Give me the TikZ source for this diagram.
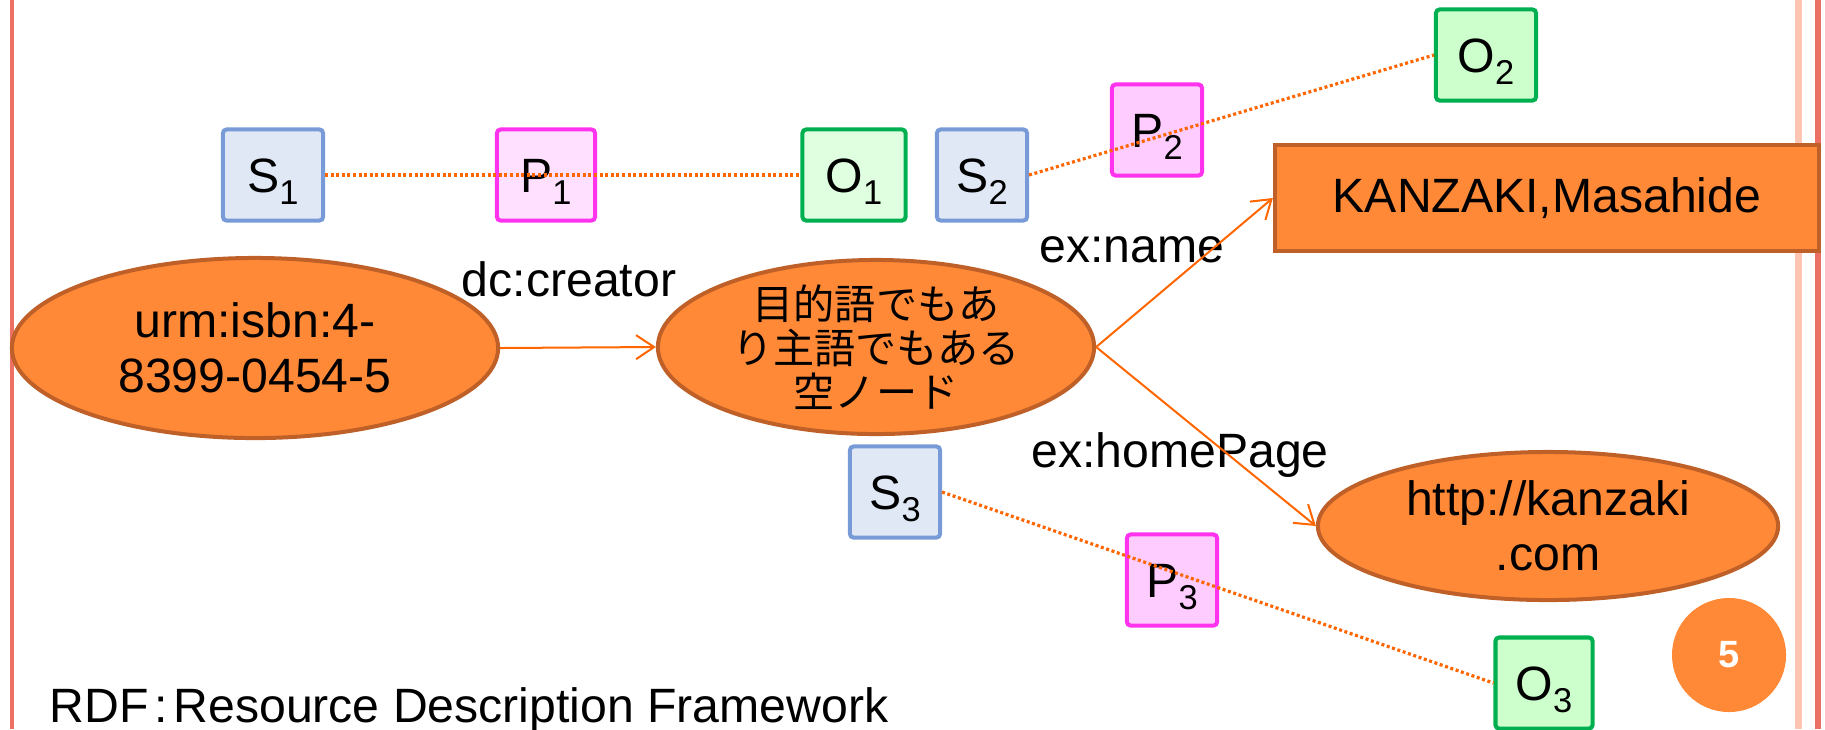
\documentclass[tikz,border=0pt]{standalone}
\usepackage{fontspec}
\setmainfont{Liberation Sans}
\newfontfamily\jpfont{Noto Sans CJK JP}
\usetikzlibrary{shapes.geometric,arrows.meta}

\definecolor{slideline}{RGB}{236,112,99}
\definecolor{slideband}{RGB}{255,196,178}
\definecolor{nodefill}{RGB}{255,137,54}
\definecolor{nodeedge}{RGB}{190,96,40}
\definecolor{linkline}{RGB}{255,102,0}
\definecolor{subjedge}{RGB}{120,155,215}
\definecolor{subjfill}{RGB}{224,232,246}
\definecolor{prededge}{RGB}{255,51,238}
\definecolor{predfill}{RGB}{255,204,255}
\definecolor{predpale}{RGB}{255,224,255}
\definecolor{objedge}{RGB}{0,176,80}
\definecolor{objfill}{RGB}{204,255,204}
\definecolor{objpale}{RGB}{224,255,224}

\tikzset{
  txt/.style={font=\fontsize{13.7}{15.7}\selectfont},
  resource/.style={txt,ellipse,draw=nodeedge,fill=nodefill,line width=0.04cm,inner sep=0pt,align=center},
  literal/.style={txt,rectangle,draw=nodeedge,fill=nodefill,line width=0.04cm,inner sep=0pt},
  tbox/.style={txt,rectangle,rounded corners=1pt,line width=0.04cm,inner sep=0pt,
    minimum height=0.91cm,text height=0.35cm,text depth=0pt},
  subj/.style={tbox,draw=subjedge,fill=subjfill,minimum width=0.9cm},
  pred/.style={tbox,draw=prededge,fill=predfill,minimum width=0.9cm},
  obj/.style={tbox,draw=objedge,fill=objfill,minimum width=1cm},
  link/.style={draw=linkline,line width=0.02cm,-{Straight Barb[length=0.18cm,width=0.24cm]}},
  triple/.style={draw=linkline,line width=0.032cm,dash pattern=on 0.03cm off 0.026cm},
}

\begin{document}
\begin{tikzpicture}[x=0.01cm,y=-0.01cm]
\def\tsub#1#2{#1\raisebox{-0.12cm}{\fontsize{9.8}{10}\selectfont #2}} % #1 Letter, #2 Index
\useasboundingbox (0,0) rectangle (1825,729);

%slide border
\fill[slideline] (9.5,0) rectangle (13.5,729);
\fill[slideband] (1795,0) rectangle (1802,729);
\fill[slideline] (1815,0) rectangle (1821,729);

%resources and literals
\node[resource,minimum width=4.86cm,minimum height=1.8cm] (urm) at (255,348) {urm:isbn:4-\\8399-0454-5};
\node[resource,minimum width=4.36cm,minimum height=1.74cm,inner ysep=-0.1cm,
  font=\jpfont\fontsize{11.7}{12.6}\selectfont] (blank) at (876,347) {目的語でもあ\\り主語でもある\\空ノード};
\node[literal,minimum width=5.44cm,minimum height=1.05cm] (name) at (1547,198) {KANZAKI,Masahide};
\node[resource,minimum width=4.6cm,minimum height=1.48cm] (home) at (1548,526) {http://kanzaki\\.com};

%property labels
\node[txt] (creator) at (569,279) {dc:creator};
\node[txt] (exname) at (1132,250) {ex:name};
\node[txt] (exhome) at (1180,455) {ex:homePage};

%arcs of the graph
\draw[link] (urm.east) -- (blank.west);
\draw[link] (blank.east) -- (name.west);
\draw[link] (blank.east) -- (home.west);

%subject, predicate, object
\node[subj,minimum width=1cm] (s1) at (273,175) {\tsub{S}{1}};
\node[pred,minimum width=0.98cm,fill=predpale] (p1) at (546,175) {\tsub{P}{1}};
\node[obj,minimum width=1.03cm,fill=objpale] (o1) at (854,175) {\tsub{O}{1}};

\node[subj] (s2) at (982,175) {\tsub{S}{2}};
\node[pred] (p2) at (1157,130) {\tsub{P}{2}};
\node[obj] (o2) at (1486,55) {\tsub{O}{2}};

\node[subj] (s3) at (895,492) {\tsub{S}{3}};
\node[pred] (p3) at (1172,580) {\tsub{P}{3}};
\node[obj,minimum width=0.97cm] (o3) at (1544,683) {\tsub{O}{3}};

\draw[triple] (s1.east) -- (o1.west);
\draw[triple] (s2.east) -- (o2.west);
\draw[triple] (s3.east) -- (o3.west);

%page number and caption
\node[circle,fill=nodefill,minimum size=1.14cm,inner sep=0pt,text=white,
  font=\bfseries\fontsize{10.8}{12}\selectfont] (page) at (1729,655) {5};
\node[txt,anchor=base west,inner sep=0pt] (rdf) at (49,722) {RDF\kern0.12em:\kern0.12em Resource Description Framework};
\end{tikzpicture}
\end{document}
